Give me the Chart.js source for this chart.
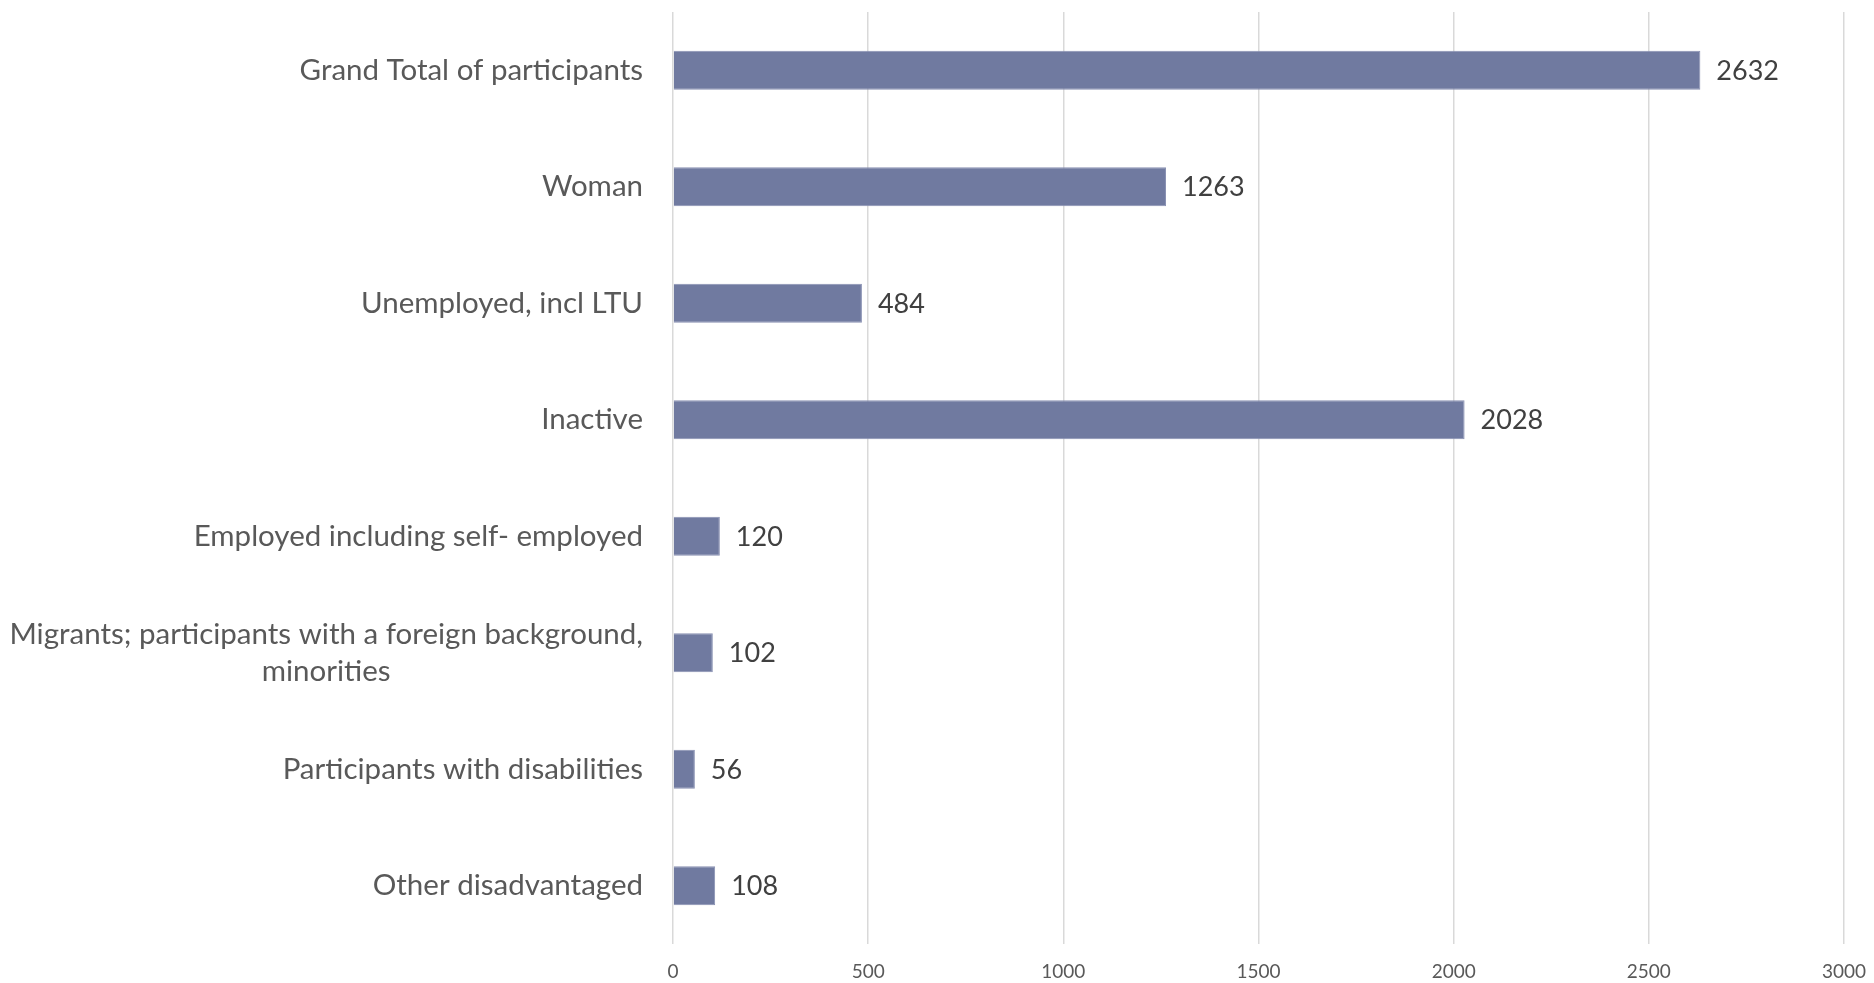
<!DOCTYPE html>
<html>
<head>
<meta charset="utf-8">
<script src="https://cdn.jsdelivr.net/npm/chart.js@4/dist/chart.umd.min.js"></script>
<style>
  html, body { margin: 0; padding: 0; background: #fff; }
  #wrap { width: 1874px; height: 983px; position: relative; }
</style>
</head>
<body>
<div id="wrap"><canvas id="participantsChart"></canvas></div>
<script>
  'use strict';

  // categories (top to bottom) and values
  var categories = [
    'Grand Total of participants',
    'Woman',
    'Unemployed, incl LTU',
    'Inactive',
    'Employed including self- employed',
    ['Migrants; participants with a foreign background,', 'minorities'],
    'Participants with disabilities',
    'Other disadvantaged'
  ];
  var participants = [2632, 1263, 484, 2028, 120, 102, 56, 108];
  var xTicks = [0, 500, 1000, 1500, 2000, 2500, 3000];

  // category labels: right aligned block, extra lines centred under the first
  var categoryLabels = {
    id: 'categoryLabels',
    afterDraw: function (chart) {
      var scale = chart.scales.y;
      var c = chart.ctx;
      var right = chart.chartArea.left - 30;
      c.save();
      c.font = '29.5px Lato';
      c.fillStyle = '#595959';
      c.textBaseline = 'middle';
      c.textAlign = 'center';
      categories.forEach(function (lab, i) {
        var lines = Array.isArray(lab) ? lab : [lab];
        var y = scale.getPixelForValue(i);
        var lh = 37;
        var widths = lines.map(function (l) { return c.measureText(l).width; });
        var maxW = Math.max.apply(null, widths);
        var centre = right - maxW / 2;
        var y0 = y - (lines.length - 1) * lh / 2;
        lines.forEach(function (l, k) {
          c.fillText(l, centre, y0 + k * lh);
        });
      });
      c.restore();
    }
  };

  // value labels at the end of each bar
  var valueLabels = {
    id: 'valueLabels',
    afterDatasetsDraw: function (chart) {
      var meta = chart.getDatasetMeta(0);
      var c = chart.ctx;
      c.save();
      c.font = '27px Lato';
      c.fillStyle = '#404040';
      c.textAlign = 'left';
      c.textBaseline = 'middle';
      meta.data.forEach(function (bar, i) {
        c.fillText(String(participants[i]), bar.x + 16, bar.y + 1);
      });
      c.restore();
    }
  };

  new Chart(document.getElementById('participantsChart'), {
    type: 'bar',
    data: {
      labels: categories,
      datasets: [{
        data: participants,
        backgroundColor: '#707aa0',
        borderColor: '#8890b2',
        borderWidth: 1,
        barPercentage: 0.335,
        categoryPercentage: 1
      }]
    },
    options: {
      indexAxis: 'y',
      responsive: true,
      maintainAspectRatio: false,
      animation: false,
      layout: { padding: { top: 12, right: 30, left: 0, bottom: 0 } },
      plugins: {
        legend: { display: false },
        tooltip: { enabled: false }
      },
      scales: {
        x: {
          min: 0,
          max: 3000,
          afterBuildTicks: function (scale) {
            scale.ticks = xTicks.map(function (v) { return { value: v }; });
          },
          afterFit: function (scale) {
            scale.height = 39;
            scale.paddingLeft = 0;
            scale.paddingRight = 0;
          },
          grid: { color: '#d9d9d9', lineWidth: 1.5, drawTicks: false },
          border: { display: false },
          ticks: {
            padding: 16,
            color: '#595959',
            font: { family: 'Lato', size: 19 },
            callback: function (v) { return String(v); }
          }
        },
        y: {
          afterFit: function (scale) { scale.width = 673; },
          grid: { display: false },
          border: { display: false },
          ticks: { display: false }
        }
      }
    },
    plugins: [categoryLabels, valueLabels]
  });
</script>
</body>
</html>
